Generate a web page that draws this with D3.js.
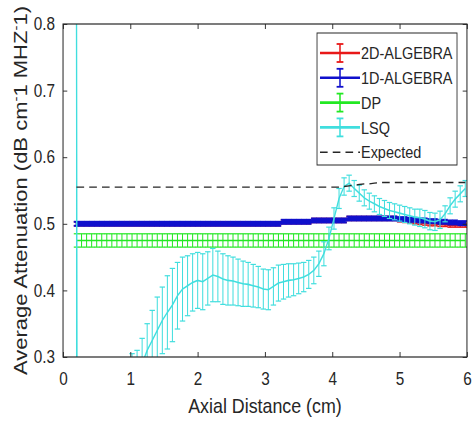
<!DOCTYPE html>
<html>
<head>
<meta charset="utf-8">
<script src="https://cdn.jsdelivr.net/npm/d3@7"></script>
<style>
    body { margin: 0; background: #ffffff; }
    text { font-family: "Liberation Sans", Arial, sans-serif; fill: #262626; }
</style>
</head>
<body>
<div id="chart"></div>
<script>
"use strict";

//Axial positions shared by every series (cm)
var distance = [0.2, 0.275, 0.35, 0.425, 0.5, 0.575, 0.65, 0.725, 0.8, 0.875,
    0.95, 1.025, 1.1, 1.175, 1.25, 1.325, 1.4, 1.475, 1.55, 1.625,
    1.7, 1.775, 1.85, 1.925, 2.0, 2.075, 2.15, 2.225, 2.3, 2.375,
    2.45, 2.525, 2.6, 2.675, 2.75, 2.825, 2.9, 2.975, 3.05, 3.125,
    3.2, 3.275, 3.35, 3.425, 3.5, 3.575, 3.65, 3.725, 3.8, 3.875,
    3.95, 4.025, 4.1, 4.175, 4.25, 4.325, 4.4, 4.475, 4.55, 4.625,
    4.7, 4.775, 4.85, 4.925, 5.0, 5.075, 5.15, 5.225, 5.3, 5.375,
    5.45, 5.525, 5.6, 5.675, 5.75, 5.825, 5.9, 5.975];

//2D-ALGEBRA mean and error
var alg2dMean = [0.5, 0.5, 0.5, 0.5, 0.5, 0.5, 0.5, 0.5, 0.5, 0.5,
    0.5, 0.5, 0.5, 0.5, 0.5, 0.5, 0.5, 0.5, 0.5, 0.5,
    0.5, 0.5, 0.5, 0.5, 0.5, 0.5, 0.5, 0.5, 0.5, 0.5,
    0.5, 0.5, 0.5, 0.5, 0.5, 0.5, 0.5, 0.5, 0.5, 0.5,
    0.5, 0.503, 0.503, 0.503, 0.503, 0.503, 0.503, 0.505, 0.505, 0.505,
    0.505, 0.505, 0.505, 0.505, 0.508, 0.508, 0.508, 0.508, 0.508, 0.508,
    0.508, 0.508, 0.508, 0.508, 0.506, 0.505, 0.504, 0.503, 0.502, 0.501,
    0.5, 0.5, 0.499, 0.499, 0.498, 0.498, 0.498, 0.498];
var alg2dErr = [0.003, 0.003, 0.003, 0.003, 0.003, 0.003, 0.003, 0.003, 0.003, 0.003,
    0.003, 0.003, 0.003, 0.003, 0.003, 0.003, 0.003, 0.003, 0.003, 0.003,
    0.003, 0.003, 0.003, 0.003, 0.003, 0.003, 0.003, 0.003, 0.003, 0.003,
    0.003, 0.003, 0.003, 0.003, 0.003, 0.003, 0.003, 0.003, 0.003, 0.003,
    0.003, 0.003, 0.003, 0.003, 0.003, 0.003, 0.003, 0.003, 0.003, 0.003,
    0.003, 0.003, 0.003, 0.003, 0.003, 0.003, 0.003, 0.003, 0.003, 0.003,
    0.003, 0.003, 0.003, 0.003, 0.003, 0.003, 0.003, 0.003, 0.003, 0.003,
    0.003, 0.003, 0.003, 0.003, 0.003, 0.003, 0.003, 0.003];

//1D-ALGEBRA mean and error
var alg1dMean = [0.5, 0.5, 0.5, 0.5, 0.5, 0.5, 0.5, 0.5, 0.5, 0.5,
    0.5, 0.5, 0.5, 0.5, 0.5, 0.5, 0.5, 0.5, 0.5, 0.5,
    0.5, 0.5, 0.5, 0.5, 0.5, 0.5, 0.5, 0.5, 0.5, 0.5,
    0.5, 0.5, 0.5, 0.5, 0.5, 0.5, 0.5, 0.5, 0.5, 0.5,
    0.5, 0.503, 0.503, 0.503, 0.503, 0.503, 0.503, 0.505, 0.505, 0.505,
    0.505, 0.505, 0.505, 0.505, 0.508, 0.508, 0.508, 0.508, 0.508, 0.508,
    0.508, 0.508, 0.508, 0.508, 0.507, 0.507, 0.506, 0.506, 0.505, 0.505,
    0.504, 0.504, 0.503, 0.503, 0.502, 0.502, 0.501, 0.501];
var alg1dErr = [0.003, 0.003, 0.003, 0.003, 0.003, 0.003, 0.003, 0.003, 0.003, 0.003,
    0.003, 0.003, 0.003, 0.003, 0.003, 0.003, 0.003, 0.003, 0.003, 0.003,
    0.003, 0.003, 0.003, 0.003, 0.003, 0.003, 0.003, 0.003, 0.003, 0.003,
    0.003, 0.003, 0.003, 0.003, 0.003, 0.003, 0.003, 0.003, 0.003, 0.003,
    0.003, 0.003, 0.003, 0.003, 0.003, 0.003, 0.003, 0.003, 0.003, 0.003,
    0.003, 0.003, 0.003, 0.003, 0.003, 0.003, 0.003, 0.003, 0.003, 0.003,
    0.003, 0.003, 0.003, 0.003, 0.003, 0.003, 0.003, 0.003, 0.003, 0.003,
    0.003, 0.003, 0.003, 0.003, 0.003, 0.003, 0.003, 0.003];

//DP mean and error
var dpMean = [0.475, 0.475, 0.475, 0.475, 0.475, 0.475, 0.475, 0.475, 0.475, 0.475,
    0.475, 0.475, 0.475, 0.475, 0.475, 0.475, 0.475, 0.475, 0.475, 0.475,
    0.475, 0.475, 0.475, 0.475, 0.475, 0.475, 0.475, 0.475, 0.475, 0.475,
    0.475, 0.475, 0.475, 0.475, 0.475, 0.475, 0.475, 0.475, 0.475, 0.475,
    0.475, 0.475, 0.475, 0.475, 0.475, 0.475, 0.475, 0.475, 0.475, 0.475,
    0.475, 0.475, 0.475, 0.475, 0.475, 0.475, 0.475, 0.475, 0.475, 0.475,
    0.475, 0.475, 0.475, 0.475, 0.475, 0.475, 0.475, 0.475, 0.475, 0.475,
    0.475, 0.475, 0.475, 0.475, 0.475, 0.475, 0.475, 0.475];
var dpErr = [0.01, 0.01, 0.01, 0.01, 0.01, 0.01, 0.01, 0.01, 0.01, 0.01,
    0.01, 0.01, 0.01, 0.01, 0.01, 0.01, 0.01, 0.01, 0.01, 0.01,
    0.01, 0.01, 0.01, 0.01, 0.01, 0.01, 0.01, 0.01, 0.01, 0.01,
    0.01, 0.01, 0.01, 0.01, 0.01, 0.01, 0.01, 0.01, 0.01, 0.01,
    0.01, 0.01, 0.01, 0.01, 0.01, 0.01, 0.01, 0.01, 0.01, 0.01,
    0.01, 0.01, 0.01, 0.01, 0.01, 0.01, 0.01, 0.01, 0.01, 0.01,
    0.01, 0.01, 0.01, 0.01, 0.01, 0.01, 0.01, 0.01, 0.01, 0.01,
    0.01, 0.01, 0.01, 0.01, 0.01, 0.01, 0.01, 0.01];

//LSQ mean and error (first points fall far outside the axes)
var lsqMean = [0.85, -5, 0.14, 0.16, 0.17, 0.18, 0.2, 0.21, 0.22, 0.23,
    0.245, 0.26, 0.268, 0.29, 0.31, 0.325, 0.34, 0.355, 0.367, 0.378,
    0.392, 0.402, 0.407, 0.412, 0.415, 0.413, 0.418, 0.423, 0.421, 0.417,
    0.415, 0.414, 0.412, 0.41, 0.409, 0.407, 0.405, 0.402, 0.401, 0.406,
    0.411, 0.413, 0.415, 0.416, 0.418, 0.42, 0.424, 0.43, 0.44, 0.455,
    0.478, 0.508, 0.538, 0.556, 0.561, 0.553, 0.546, 0.539, 0.534, 0.53,
    0.526, 0.523, 0.52, 0.518, 0.516, 0.514, 0.512, 0.51, 0.509, 0.507,
    0.504, 0.503, 0.506, 0.515, 0.527, 0.537, 0.545, 0.553];
var lsqErr = [0.65, 0.03, 0.03, 0.03, 0.03, 0.03, 0.03, 0.03, 0.03, 0.03,
    0.03, 0.045, 0.042, 0.038, 0.04, 0.045, 0.05, 0.05, 0.055, 0.055,
    0.05, 0.048, 0.045, 0.043, 0.042, 0.042, 0.04, 0.04, 0.038, 0.038,
    0.037, 0.036, 0.035, 0.034, 0.033, 0.032, 0.031, 0.03, 0.03, 0.028,
    0.027, 0.026, 0.025, 0.024, 0.023, 0.022, 0.021, 0.02, 0.019, 0.018,
    0.017, 0.016, 0.015, 0.013, 0.012, 0.012, 0.012, 0.012, 0.012, 0.012,
    0.012, 0.012, 0.012, 0.012, 0.012, 0.012, 0.012, 0.012, 0.013, 0.013,
    0.013, 0.013, 0.013, 0.012, 0.012, 0.012, 0.012, 0.012];

//Expected attenuation
var expected = [0.555, 0.555, 0.555, 0.555, 0.555, 0.555, 0.555, 0.555, 0.555, 0.555,
    0.555, 0.555, 0.555, 0.555, 0.555, 0.555, 0.555, 0.555, 0.555, 0.555,
    0.555, 0.555, 0.555, 0.555, 0.555, 0.555, 0.555, 0.555, 0.555, 0.555,
    0.555, 0.555, 0.555, 0.555, 0.555, 0.555, 0.555, 0.555, 0.555, 0.555,
    0.555, 0.555, 0.555, 0.555, 0.555, 0.555, 0.555, 0.555, 0.555, 0.555,
    0.555, 0.555, 0.555, 0.556, 0.557, 0.558, 0.559, 0.56, 0.56, 0.561,
    0.562, 0.562, 0.562, 0.562, 0.562, 0.562, 0.562, 0.562, 0.562, 0.562,
    0.562, 0.562, 0.562, 0.562, 0.562, 0.562, 0.562, 0.562];

var seriesNames = ["2D-ALGEBRA", "1D-ALGEBRA", "DP", "LSQ", "Expected"];
var xTicks = [0, 1, 2, 3, 4, 5, 6];
var yTicks = [0.3, 0.4, 0.5, 0.6, 0.7, 0.8];

//The picture was squeezed horizontally, so draw at 558 wide and scale x.
var sx = 474 / 558;
var pLeft = 74.2, pRight = 549.7, pTop = 24, pBottom = 357;

var svg = d3.select("#chart")
        .append("svg")
        .attr("width", 474)
        .attr("height", 423);

var g = svg.append("g")
        .attr("transform", "scale(" + sx + ",1)");

var x = d3.scaleLinear().domain([0, 6]).range([pLeft, pRight]);
var y = d3.scaleLinear().domain([0.3, 0.8]).range([pBottom, pTop]);

g.append("clipPath")
        .attr("id", "plot-clip")
        .append("rect")
        .attr("x", pLeft)
        .attr("y", pTop)
        .attr("width", pRight - pLeft)
        .attr("height", pBottom - pTop);

var plot = g.append("g").attr("clip-path", "url(#plot-clip)");

//draws one errorbar series: bars, caps and the mean line
function errorSeries(mean, err, color, lineWidth, barWidth) {
    var s = plot.append("g");
    var capHalf = 3.2;
    distance.forEach(function (d, i) {
        var cx = x(d), y0 = y(mean[i] - err[i]), y1 = y(mean[i] + err[i]);
        s.append("line")
                .attr("x1", cx).attr("x2", cx)
                .attr("y1", y0).attr("y2", y1)
                .attr("stroke", color)
                .attr("stroke-width", barWidth);
        [y0, y1].forEach(function (cy) {
            s.append("line")
                    .attr("x1", cx - capHalf).attr("x2", cx + capHalf)
                    .attr("y1", cy).attr("y2", cy)
                    .attr("stroke", color)
                    .attr("stroke-width", barWidth);
        });
    });
    s.append("path")
            .datum(mean)
            .attr("fill", "none")
            .attr("stroke", color)
            .attr("stroke-width", lineWidth)
            .attr("d", d3.line()
                    .x(function (v, i) { return x(distance[i]); })
                    .y(function (v) { return y(v); }));
}

var colors = ["#e81818", "#1010cc", "#22e822", "#40dede", "#262626"];

errorSeries(alg2dMean, alg2dErr, colors[0], 2, 1.5);
errorSeries(alg1dMean, alg1dErr, colors[1], 3.5, 2);
errorSeries(dpMean, dpErr, colors[2], 1.5, 1.2);
errorSeries(lsqMean, lsqErr, colors[3], 1.6, 1.2);

plot.append("path")
        .datum(expected)
        .attr("fill", "none")
        .attr("stroke", colors[4])
        .attr("stroke-width", 1.4)
        .attr("stroke-dasharray", "9,6")
        .attr("d", d3.line()
                .x(function (v, i) { return x(distance[i]); })
                .y(function (v) { return y(v); }));

//axes with ticks pointing inwards on all four sides
var axisColor = "#262626";
var bx = g.append("g").attr("transform", "translate(0," + pBottom + ")")
        .call(d3.axisBottom(x).tickValues(xTicks).tickFormat(d3.format("d"))
                .tickSizeInner(-5).tickSizeOuter(0).tickPadding(15));
var tx = g.append("g").attr("transform", "translate(0," + pTop + ")")
        .call(d3.axisTop(x).tickValues(xTicks).tickFormat("")
                .tickSizeInner(-5).tickSizeOuter(0));
var ly = g.append("g").attr("transform", "translate(" + pLeft + ",0)")
        .call(d3.axisLeft(y).tickValues(yTicks).tickFormat(d3.format(".1f"))
                .tickSizeInner(-5).tickSizeOuter(0).tickPadding(9.5));
var ry = g.append("g").attr("transform", "translate(" + pRight + ",0)")
        .call(d3.axisRight(y).tickValues(yTicks).tickFormat("")
                .tickSizeInner(-5).tickSizeOuter(0));

[bx, tx, ly, ry].forEach(function (a) {
    a.select(".domain").remove();
    a.selectAll(".tick line").attr("stroke", axisColor);
    a.selectAll("text")
            .attr("fill", axisColor)
            .style("font-size", "18px")
            .style("font-family", "'Liberation Sans', Arial, sans-serif");
});

g.append("rect")
        .attr("x", pLeft)
        .attr("y", pTop)
        .attr("width", pRight - pLeft)
        .attr("height", pBottom - pTop)
        .attr("fill", "none")
        .attr("stroke", axisColor)
        .attr("stroke-width", 1.2);

//axis titles
g.append("text")
        .attr("x", (pLeft + pRight) / 2)
        .attr("y", 413)
        .attr("text-anchor", "middle")
        .style("font-size", "21px")
        .text("Axial Distance (cm)");

var yTitle = g.append("text")
        .attr("transform", "translate(31.5," + ((pTop + pBottom) / 2) + ") rotate(-90)")
        .attr("text-anchor", "middle")
        .style("font-size", "22px");
yTitle.append("tspan").text("Average Attenuation (dB cm");
yTitle.append("tspan").attr("dy", -8).style("font-size", "15px").text("-");
yTitle.append("tspan").attr("dy", 8).text("1 MHZ");
yTitle.append("tspan").attr("dy", -8).style("font-size", "15px").text("-");
yTitle.append("tspan").attr("dy", 8).text("1)");

//legend
var legend = g.append("g");
legend.append("rect")
        .attr("x", 373.2)
        .attr("y", 33)
        .attr("width", 164.8)
        .attr("height", 132)
        .attr("fill", "#ffffff")
        .attr("stroke", axisColor)
        .attr("stroke-width", 1);

seriesNames.forEach(function (name, i) {
    var ly0 = 53 + i * 24.8;
    var x0 = 376.7, x1 = 423.8, xc = (x0 + x1) / 2;
    var item = legend.append("g");
    item.append("line")
            .attr("x1", x0).attr("x2", x1)
            .attr("y1", ly0).attr("y2", ly0)
            .attr("stroke", colors[i])
            .attr("stroke-width", i === 4 ? 1.4 : 2.6)
            .attr("stroke-dasharray", i === 4 ? "9,6" : null);
    if (i < 4) {
        item.append("line")
                .attr("x1", xc).attr("x2", xc)
                .attr("y1", ly0 - 9).attr("y2", ly0 + 9)
                .attr("stroke", colors[i])
                .attr("stroke-width", 1.8);
        [ly0 - 9, ly0 + 9].forEach(function (cy) {
            item.append("line")
                    .attr("x1", xc - 4).attr("x2", xc + 4)
                    .attr("y1", cy).attr("y2", cy)
                    .attr("stroke", colors[i])
                    .attr("stroke-width", 1.8);
        });
    }
    item.append("text")
            .attr("x", 425)
            .attr("y", ly0)
            .attr("dy", "0.36em")
            .style("font-size", "17px")
            .text(name);
});
</script>
</body>
</html>
